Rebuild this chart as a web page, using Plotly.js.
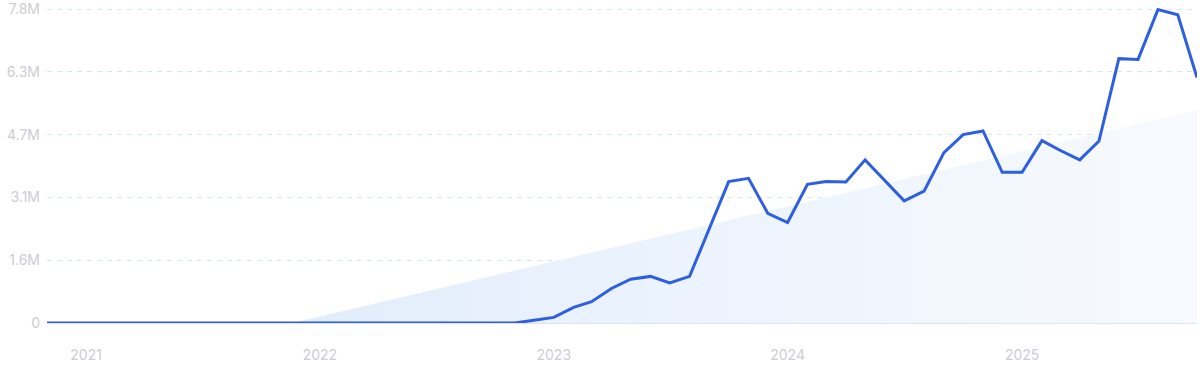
<!DOCTYPE html>
<html>
<head>
<meta charset="utf-8">
<script src="https://cdn.plot.ly/plotly-3.0.1.min.js"></script>
<style>
  html, body { margin: 0; padding: 0; background: #ffffff; }
  #chart { width: 1200px; height: 372px; }
</style>
</head>
<body>
<div id="chart"></div>
<script>
// Monthly dates (first of month), Nov 2020 – Oct 2025
const months = [
  '2020-11-01','2020-12-01',
  '2021-01-01','2021-02-01','2021-03-01','2021-04-01','2021-05-01','2021-06-01',
  '2021-07-01','2021-08-01','2021-09-01','2021-10-01','2021-11-01','2021-12-01',
  '2022-01-01','2022-02-01','2022-03-01','2022-04-01','2022-05-01','2022-06-01',
  '2022-07-01','2022-08-01','2022-09-01','2022-10-01','2022-11-01','2022-12-01',
  '2023-01-01','2023-02-01','2023-03-01','2023-04-01','2023-05-01','2023-06-01',
  '2023-07-01','2023-08-01','2023-09-01','2023-10-01','2023-11-01','2023-12-01',
  '2024-01-01','2024-02-01','2024-03-01','2024-04-01','2024-05-01','2024-06-01',
  '2024-07-01','2024-08-01','2024-09-01','2024-10-01','2024-11-01','2024-12-01',
  '2025-01-01','2025-02-01','2025-03-01','2025-04-01','2025-05-01','2025-06-01',
  '2025-07-01','2025-08-01','2025-09-01','2025-10-01'
];

// Search volume, millions
const volume = [
  0, 0,
  0, 0, 0, 0, 0, 0, 0, 0, 0, 0, 0, 0,
  0, 0, 0, 0, 0, 0, 0, 0, 0, 0, 0, 0.07,
  0.14, 0.39, 0.53, 0.86, 1.09, 1.16, 1.00, 1.16, 2.35, 3.52, 3.60, 2.73,
  2.50, 3.45, 3.52, 3.51, 4.06, 3.55, 3.04, 3.28, 4.24, 4.69, 4.78, 3.75,
  3.75, 4.54, 4.30, 4.06, 4.53, 6.58, 6.56, 7.80, 7.67, 6.11
];

// Linear trend (millions), clipped at zero
const trendDates = ['2021-11-19', '2025-10-01'];
const trendValues = [0, 5.30];

// Y-axis ticks (millions)
const yTickVals = [0, 1.5625, 3.125, 4.6875, 6.25, 7.8125];
const yTickText = ['0', '1.6M', '3.1M', '4.7M', '6.3M', '7.8M'];

// X-axis ticks
const xTickVals = ['2021-01-01', '2022-01-01', '2023-01-01', '2024-01-01', '2025-01-01'];
const xTickText = ['2021', '2022', '2023', '2024', '2025'];

const M = 1e6;

const traces = [
  {
    x: trendDates,
    y: trendValues.map(v => v * M),
    type: 'scatter',
    mode: 'lines',
    line: { width: 0, color: 'rgba(0,0,0,0)' },
    fill: 'tozeroy',
    fillgradient: {
      type: 'horizontal',
      colorscale: [[0, '#e2edfb'], [0.5, '#edf4fd'], [1, '#f7fafe']]
    },
    hoverinfo: 'skip',
    showlegend: false
  },
  {
    x: months,
    y: volume.map(v => v * M),
    type: 'scatter',
    mode: 'lines',
    line: { color: '#2d5fe0', width: 3, shape: 'linear' },
    cliponaxis: false,
    showlegend: false
  }
];

const tickFont = { family: 'Inter, "Open Sans", sans-serif', size: 14, color: '#cdcdd4' };

const layout = {
  width: 1200,
  height: 372,
  margin: { l: 47, r: 3, t: 8, b: 49 },
  paper_bgcolor: '#ffffff',
  plot_bgcolor: '#ffffff',
  showlegend: false,
  xaxis: {
    type: 'date',
    range: ['2020-11-01', '2025-10-01'],
    tickvals: xTickVals,
    ticktext: xTickText,
    tickfont: tickFont,
    showgrid: false,
    zeroline: false,
    showline: false,
    ticks: '',
    ticklabelstandoff: 22
  },
  yaxis: {
    range: [0, 7.84 * M],
    tickvals: yTickVals.map(v => v * M),
    ticktext: yTickText,
    tickfont: tickFont,
    showgrid: true,
    gridcolor: '#d2e9f9',
    griddash: '5px,5px',
    gridwidth: 1,
    zeroline: true,
    zerolinecolor: '#dfe2f4',
    zerolinewidth: 2,
    showline: false,
    ticks: '',
    ticklabelstandoff: 6
  }
};

Plotly.newPlot('chart', traces, layout, { displayModeBar: false, staticPlot: true });
</script>
</body>
</html>
